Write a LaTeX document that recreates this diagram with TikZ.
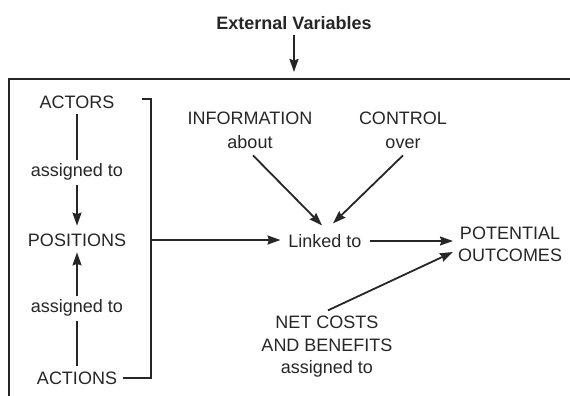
\documentclass[tikz,border=0pt]{standalone}
\usepackage{fontspec}
\setmainfont{Liberation Sans}
\usetikzlibrary{arrows.meta}
\definecolor{ink}{HTML}{262626}
\tikzset{
  lbl/.style={inner sep=0pt, outer sep=0pt, text=ink, font=\fontsize{18}{22.5}\selectfont, align=center},
  ln/.style={draw=ink, line width=1.8pt},
  arr/.style={ln, -{Stealth[length=13pt,width=9pt,inset=1.5pt]}},
}
\begin{document}
\begin{tikzpicture}[x=1pt,y=-1pt]
  \useasboundingbox (0,0) rectangle (570,396);

  % outer frame, open to the right and bottom
  \draw[ln, line width=2pt] (9,400) -- (9,79) -- (575,79);

  % external influence entering the frame
  \node[lbl, font=\fontsize{18}{22}\bfseries] (ext) at (294,23) {External Variables};
  \coordinate (fr) at (294,79);
  \draw[arr, shorten <=5pt, shorten >=7pt] (ext.south) -- (fr);

  % left column
  \node[lbl] (actors) at (77,102) {ACTORS};
  \node[lbl] (as1) at (77,172) {assigned to};
  \node[lbl] (positions) at (77,240) {POSITIONS};
  \node[lbl] (as2) at (77,308) {assigned to};
  \node[lbl] (actions) at (77,378) {ACTIONS};

  \draw[ln, shorten <=6pt, shorten >=4pt] (actors.south) -- (as1.north);
  \draw[arr, shorten <=5pt, shorten >=8pt] (as1.south) -- (positions.north);
  \draw[ln, shorten <=6pt, shorten >=5pt] (actions.north) -- (as2.south);
  \draw[arr, shorten <=4pt, shorten >=6pt] (as2.north) -- (positions.south);

  % bracket grouping the left column
  \coordinate (bt0) at (142,99);
  \coordinate (bt) at (151,99);
  \coordinate (bm) at (151,240);
  \coordinate (bb) at (151,378);
  \draw[ln] (bt0) -- (bt) -- (bb) -- ([xshift=6pt]actions.east |- bb);

  % middle and right part
  \node[lbl, font=\fontsize{18}{24}\selectfont] (info) at (250,130) {INFORMATION\\about};
  \node[lbl, font=\fontsize{18}{24}\selectfont] (control) at (403,130) {CONTROL\\over};
  \node[lbl] (linked) at (325,241) {Linked to};
  \node[lbl, font=\fontsize{18}{22}\selectfont] (pot) at (510,244) {POTENTIAL\\OUTCOMES};
  \node[lbl] (net) at (327,347) {NET COSTS\\AND BENEFITS\\assigned to};

  \draw[arr, shorten >=8pt] (bm) -- (bm -| linked.west);
  \draw[arr, shorten <=8pt, shorten >=5pt] (linked.east) -- (linked.east -| pot.west);
  \draw[arr] ([xshift=3pt,yshift=-7pt]info.south) -- ([xshift=-3pt,yshift=9pt]linked.north);
  \draw[arr] ([yshift=-7pt]control.south) -- ([xshift=8pt,yshift=11pt]linked.north);
  \draw[arr] ([xshift=1pt,yshift=6pt]net.north) -- ([xshift=-5pt,yshift=-8pt]pot.west);
\end{tikzpicture}
\end{document}
